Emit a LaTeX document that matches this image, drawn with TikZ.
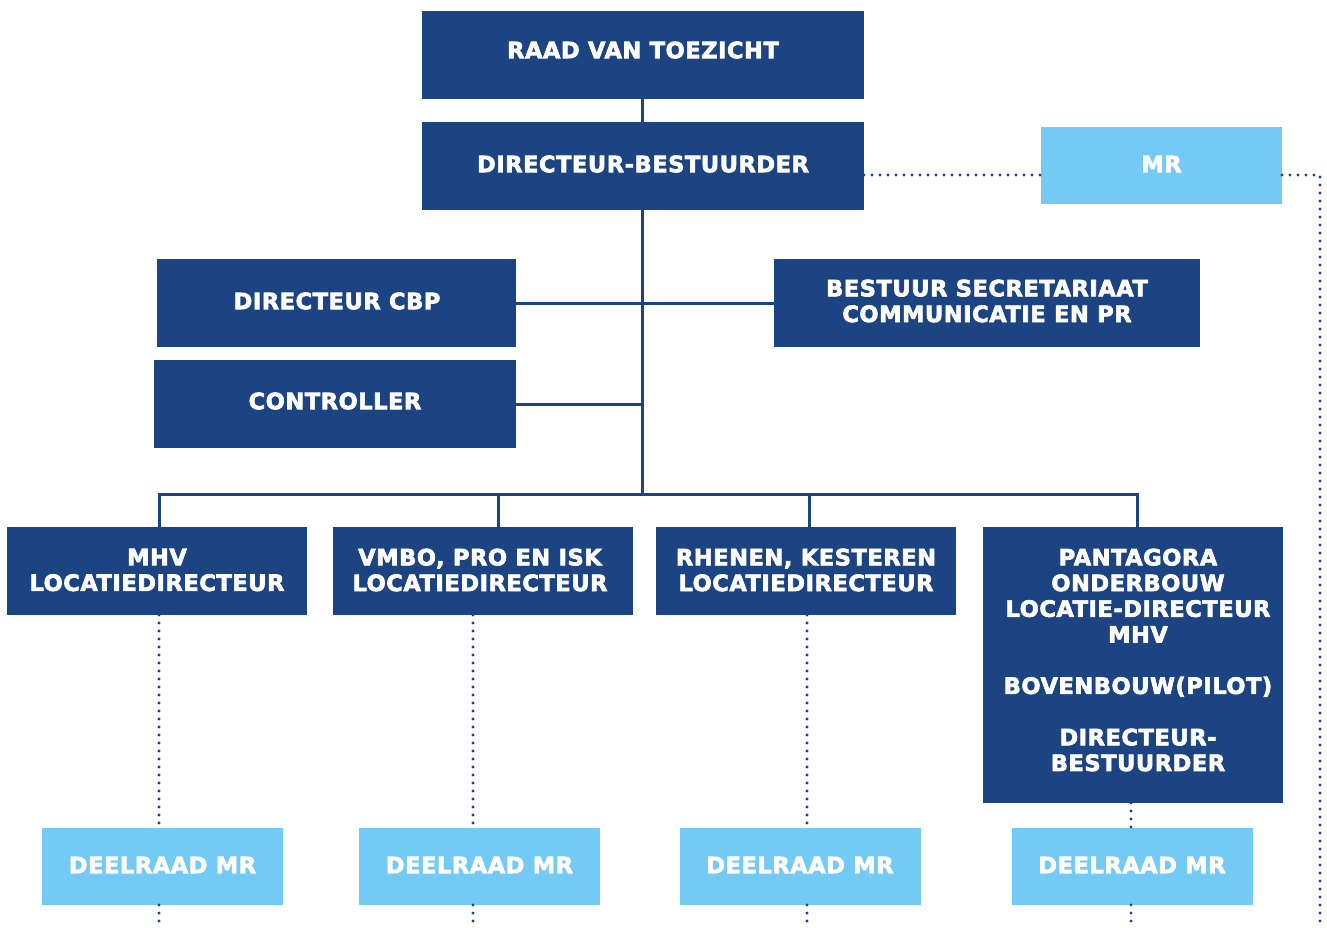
\documentclass[tikz,border=0pt]{standalone}
\usepackage{fontspec}
\setmainfont{DejaVu Sans}[BoldFeatures={FakeBold=3,LetterSpace=2.5}]
\definecolor{dkblue}{RGB}{28,67,130}
\definecolor{ltblue}{RGB}{115,202,244}
\begin{document}
\begin{tikzpicture}[x=1pt,y=-1pt,
  box/.style={inner sep=0pt, outer sep=0pt, text=white, align=center,
    font=\fontsize{22.5}{25.7}\selectfont\bfseries},
  dk/.style={box, fill=dkblue},
  lt/.style={box, fill=ltblue},
  lbl/.style={text=white, align=center, inner sep=0pt,
    font=\fontsize{22.5}{25.7}\selectfont\bfseries},
  conn/.style={draw=dkblue, line width=3pt},
  dotline/.style={draw=dkblue, line width=3.2pt, line cap=round, dash pattern=on 0pt off 8pt}]
\useasboundingbox (0,0) rectangle (1327,928);
% top
\node[dk, minimum width=442pt, minimum height=88pt] (raad) at (643,55) {};
\node[lbl] (traad) at (643,50) {RAAD VAN TOEZICHT};
\node[dk, minimum width=442pt, minimum height=88pt] (dirb) at (643,166) {};
\node[lbl] (tdirb) at (643,164) {DIRECTEUR-BESTUURDER};
\node[lt, minimum width=241pt, minimum height=77pt] (mr) at (1161.5,165.5) {};
\node[lbl] (tmr) at (1161.5,164) {MR};
% staff
\node[dk, minimum width=359pt, minimum height=88pt] (cbp) at (336.5,303) {};
\node[lbl] (tcbp) at (337,301) {DIRECTEUR CBP};
\node[dk, minimum width=426pt, minimum height=88pt] (bss) at (987,303) {};
\node[lbl] (tbss) at (987,301) {BESTUUR SECRETARIAAT\\COMMUNICATIE EN PR};
\node[dk, minimum width=362pt, minimum height=88pt] (ctrl) at (335,404) {};
\node[lbl] (tctrl) at (335,401) {CONTROLLER};
% locations
\node[dk, minimum width=300pt, minimum height=88pt] (mhv) at (157,571) {};
\node[lbl] (tmhv) at (157,570) {MHV\\LOCATIEDIRECTEUR};
\node[dk, minimum width=300pt, minimum height=88pt] (vmbo) at (483,571) {};
\node[lbl] (tvmbo) at (480,570) {VMBO, PRO EN ISK\\LOCATIEDIRECTEUR};
\node[dk, minimum width=300pt, minimum height=88pt] (rhen) at (806,571) {};
\node[lbl] (trhen) at (806,570) {RHENEN, KESTEREN\\LOCATIEDIRECTEUR};
\node[dk, minimum width=300pt, minimum height=276pt] (pan) at (1133,665) {};
\node[lbl] (tpan) at (1138,660) {PANTAGORA\\ONDERBOUW\\LOCATIE-DIRECTEUR\\MHV\\[25.7pt]BOVENBOUW(PILOT)\\[25.7pt]DIRECTEUR-\\BESTUURDER};
% deelraden
\node[lt, minimum width=241pt, minimum height=77pt] (d1) at (162.5,866.5) {};
\node[lbl] (td1) at (162.5,865) {DEELRAAD MR};
\node[lt, minimum width=241pt, minimum height=77pt] (d2) at (479.5,866.5) {};
\node[lbl] (td2) at (479.5,865) {DEELRAAD MR};
\node[lt, minimum width=241pt, minimum height=77pt] (d3) at (800,866.5) {};
\node[lbl] (td3) at (800,865) {DEELRAAD MR};
\node[lt, minimum width=241pt, minimum height=77pt] (d4) at (1132,866.5) {};
\node[lbl] (td4) at (1132,865) {DEELRAAD MR};
% coordinates
\coordinate (bus) at (642,494);
\coordinate (mrc) at (1320,175);
\coordinate (mrend) at (1320,928);
% solid connectors
\draw[conn] ([xshift=-1pt]raad.south) -- ([xshift=-1pt]dirb.north);
\draw[conn] ([xshift=-1pt]dirb.south) -- (bus);
\draw[conn] (cbp.east) -- (bss.west);
\draw[conn] (ctrl.east) -- (ctrl.east -| bus);
\draw[conn] ([xshift=2pt]mhv.north) -- ([xshift=2pt]mhv.north |- bus) -- ([xshift=4pt]pan.north |- bus) -- ([xshift=4pt]pan.north);
\draw[conn] ([xshift=15pt]vmbo.north |- bus) -- ([xshift=15pt]vmbo.north);
\draw[conn] ([xshift=3pt]rhen.north |- bus) -- ([xshift=3pt]rhen.north);
% dotted connectors
\path[dotline] ([yshift=-9pt]dirb.east) -- ([yshift=-9.5pt]mr.west);
\path[dotline] ([yshift=-9.5pt]mr.east) -- (mrc) -- (mrend);
\path[dotline] ([xshift=2pt]mhv.south) -- ([xshift=2pt]mhv.south |- d1.north);
\path[dotline] ([xshift=2pt]mhv.south |- d1.south) -- ([xshift=2pt]mhv.south |- mrend);
\path[dotline] ([xshift=-10pt]vmbo.south) -- ([xshift=-10pt]vmbo.south |- d2.north);
\path[dotline] ([xshift=-10pt]vmbo.south |- d2.south) -- ([xshift=-10pt]vmbo.south |- mrend);
\path[dotline] ([xshift=1pt]rhen.south) -- ([xshift=1pt]rhen.south |- d3.north);
\path[dotline] ([xshift=1pt]rhen.south |- d3.south) -- ([xshift=1pt]rhen.south |- mrend);
\path[dotline] ([xshift=-2pt]pan.south) -- ([xshift=-2pt]pan.south |- d4.north);
\path[dotline] ([xshift=-2pt]pan.south |- d4.south) -- ([xshift=-2pt]pan.south |- mrend);
\end{tikzpicture}
\end{document}
